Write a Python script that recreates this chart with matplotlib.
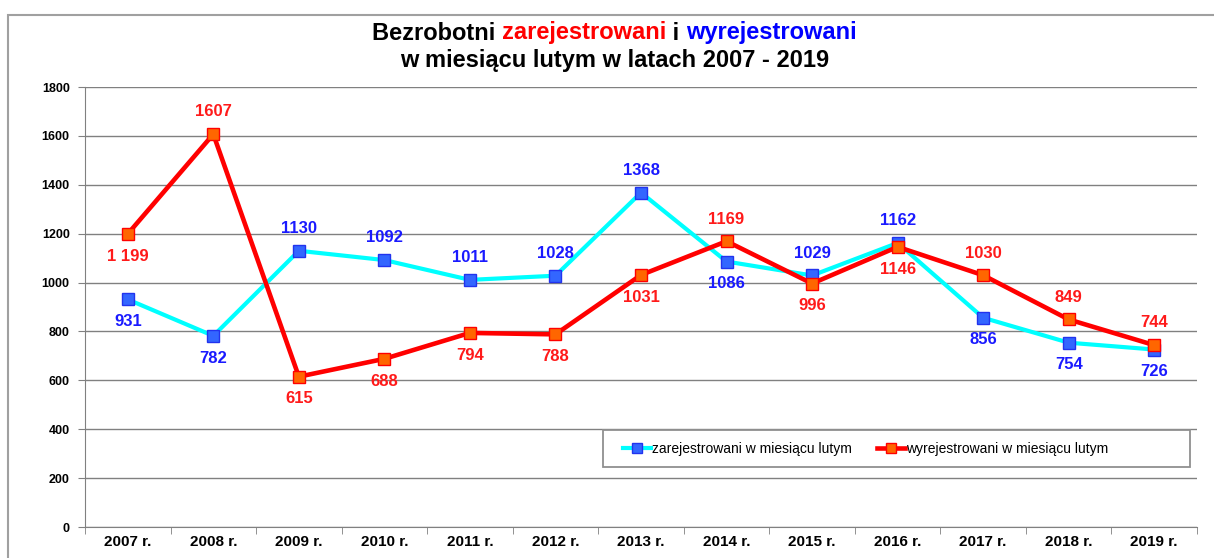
import matplotlib.pyplot as plt
import numpy as np
from matplotlib.patches import Rectangle

plt.rcParams['font.family'] = ['Liberation Sans', 'DejaVu Sans']

years = ['2007 r.', '2008 r.', '2009 r.', '2010 r.', '2011 r.', '2012 r.', '2013 r.',
         '2014 r.', '2015 r.', '2016 r.', '2017 r.', '2018 r.', '2019 r.']
zarej = [931, 782, 1130, 1092, 1011, 1028, 1368, 1086, 1029, 1162, 856, 754, 726]
wyrej = [1199, 1607, 615, 688, 794, 788, 1031, 1169, 996, 1146, 1030, 849, 744]
zarej_lbl = [str(v) for v in zarej]
wyrej_lbl = ['1 199'] + [str(v) for v in wyrej[1:]]
# label above (+1) or below (-1) the point
zarej_pos = [-1, -1, 1, 1, 1, 1, 1, -1, 1, 1, -1, -1, -1]
wyrej_pos = [-1, 1, -1, -1, -1, -1, -1, 1, -1, -1, 1, 1, 1]

W, H = 1214, 558
fig = plt.figure(figsize=(W / 100, H / 100), dpi=100)
ax = fig.add_axes([85 / W, 1 - 527 / H, (1197 - 85) / W, (527 - 87) / H])

# outer frame of the chart object
fig.patches.append(Rectangle((8 / W, -0.2), 1.2, 1.2 - 15 / H, transform=fig.transFigure,
                             fill=False, ec='#a0a0a0', lw=1.5, zorder=0))

x = np.arange(len(years))
ax.plot(x, zarej, color='#00ffff', lw=3, marker='s', ms=9, mfc='#3366ff', mec='#2233ee',
        mew=1, label='zarejestrowani w miesiącu lutym', zorder=3)
ax.plot(x, wyrej, color='#ff0000', lw=3.3, marker='s', ms=9, mfc='#ff6600', mec='#ff0000',
        mew=1, label='wyrejestrowani w miesiącu lutym', zorder=4)

for i in range(len(x)):
    ax.annotate(zarej_lbl[i], (x[i], zarej[i]), xytext=(0, 16 * zarej_pos[i]),
                textcoords='offset points', ha='center', va='center', color='#1a1aff',
                fontsize=12, fontweight='bold', zorder=5)
    ax.annotate(wyrej_lbl[i], (x[i], wyrej[i]), xytext=(0, 16 * wyrej_pos[i]),
                textcoords='offset points', ha='center', va='center', color='#ff1a1a',
                fontsize=12, fontweight='bold', zorder=5)

ax.set_xlim(-0.5, len(years) - 0.5)
ax.set_ylim(0, 1800)
ax.set_yticks(range(0, 1801, 200))
ax.set_xticks(x)
ax.set_xticklabels(years, fontsize=11, fontweight='bold')
ax.set_xticks(np.arange(-0.5, len(years), 1), minor=True)
ax.tick_params(axis='x', which='major', length=0, pad=6)
ax.tick_params(axis='x', which='minor', length=5, color='#808080', direction='out')
ax.tick_params(axis='y', length=5, color='#808080', labelsize=9, pad=6)
for lbl in ax.get_yticklabels():
    lbl.set_fontweight('bold')
ax.grid(axis='y', color='#808080', lw=1)
ax.set_axisbelow(True)
for s in ['top', 'right']:
    ax.spines[s].set_visible(False)
ax.spines['left'].set_color('#808080')
ax.spines['bottom'].set_color('#808080')

# legend box
ax.add_patch(Rectangle(((603 - 85) / 1112, (527 - 467) / 440), (1190 - 603) / 1112, 37 / 440,
                       transform=ax.transAxes, fc='white', ec='#909090', lw=1.3, zorder=6))
leg = ax.legend(loc='center left', bbox_to_anchor=((623 - 85) / 1112, (527 - 449) / 440), ncol=2,
                fontsize=10, frameon=False, handlelength=2.0, borderpad=0, borderaxespad=0,
                columnspacing=1.8, handletextpad=0.1, markerscale=0.85)
leg.set_zorder(7)

# two-line title with coloured words
fig.canvas.draw()
r = fig.canvas.get_renderer()
parts = [('Bezrobotni ', 'black'), ('zarejestrowani', '#ff0000'), (' i ', 'black'),
         ('wyrejestrowani', '#0000ff')]
texts = []
for s, c in parts:
    t = fig.text(0, 1 - 33 / H, s, color=c, fontsize=17, fontweight='bold', va='center')
    texts.append(t)
widths = [t.get_window_extent(r).width for t in texts]
total = sum(widths)
xpos = 614 - total / 2
for t, w in zip(texts, widths):
    t.set_x(xpos / W)
    xpos += w
fig.text(615 / W, 1 - 60 / H, 'w miesiącu lutym w latach 2007 - 2019', color='black',
         fontsize=17, fontweight='bold', ha='center', va='center')

fig.savefig('out.png', dpi=100)
